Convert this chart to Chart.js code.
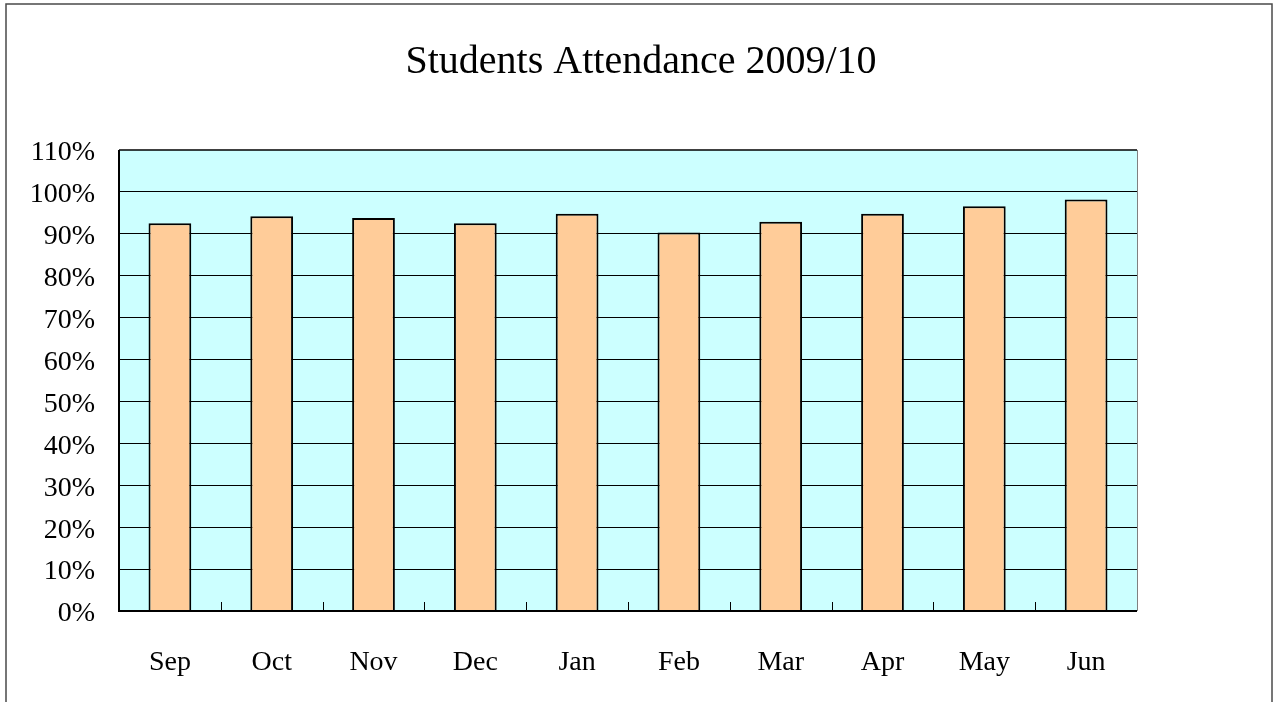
<!DOCTYPE html>
<html>
<head>
<meta charset="utf-8">
<script src="https://cdn.jsdelivr.net/npm/chart.js@4/dist/chart.umd.min.js"></script>
<style>
  html, body { margin: 0; padding: 0; background: #ffffff; }
  #wrap { position: relative; width: 1282px; height: 702px; }
</style>
</head>
<body>
<div id="wrap"><canvas id="c" width="1282" height="702"></canvas></div>
<script>
const titleText = 'Students Attendance 2009/10';
const months = ['Sep', 'Oct', 'Nov', 'Dec', 'Jan', 'Feb', 'Mar', 'Apr', 'May', 'Jun'];
const attendance = [92.5, 94.2, 93.8, 92.5, 94.8, 90.3, 92.9, 94.8, 96.6, 98.2];
const yTicks = [0, 10, 20, 30, 40, 50, 60, 70, 80, 90, 100, 110];

const FONT = "'Liberation Serif', 'DejaVu Serif', serif";

const frame = {
  id: 'frame',
  beforeDraw(chart) {
    const { ctx, chartArea: a } = chart;
    ctx.save();
    ctx.fillStyle = '#ffffff';
    ctx.fillRect(0, 0, chart.width, chart.height);
    ctx.strokeStyle = '#4a4a4a';
    ctx.lineWidth = 1.5;
    ctx.strokeRect(6, 4, 1266, 720);
    ctx.fillStyle = '#CCFFFF';
    ctx.fillRect(a.left, a.top, a.right - a.left, a.bottom - a.top);
    ctx.restore();
  },
  afterDraw(chart) {
    const { ctx, chartArea: a } = chart;
    const xs = chart.scales.x;
    ctx.save();
    ctx.strokeStyle = '#000';
    ctx.lineWidth = 1;
    for (let i = 1; i < months.length; i++) {
      const x = Math.round((xs.getPixelForTick(i - 1) + xs.getPixelForTick(i)) / 2) + 0.5;
      ctx.beginPath();
      ctx.moveTo(x, a.bottom - 9);
      ctx.lineTo(x, a.bottom);
      ctx.stroke();
    }
    ctx.strokeStyle = '#000';
    ctx.lineWidth = 1.5;
    ctx.beginPath();
    ctx.moveTo(a.left, a.top);
    ctx.lineTo(a.right, a.top);
    ctx.stroke();
    ctx.strokeStyle = '#808080';
    ctx.lineWidth = 1;
    ctx.beginPath();
    ctx.moveTo(a.right + 0.5, a.top);
    ctx.lineTo(a.right + 0.5, a.bottom);
    ctx.stroke();
    ctx.strokeStyle = '#000';
    ctx.lineWidth = 2;
    ctx.beginPath();
    ctx.moveTo(a.left, a.top);
    ctx.lineTo(a.left, a.bottom);
    ctx.lineTo(a.right, a.bottom);
    ctx.stroke();
    ctx.restore();
  }
};

new Chart(document.getElementById('c'), {
  type: 'bar',
  data: {
    labels: months,
    datasets: [{
      label: 'Attendance',
      data: attendance,
      backgroundColor: '#FFCC99',
      borderColor: '#000000',
      borderWidth: 2,
      borderSkipped: 'bottom',
      categoryPercentage: 1.0,
      barPercentage: 0.42
    }]
  },
  options: {
    responsive: false,
    animation: false,
    devicePixelRatio: 1,
    layout: { padding: 0 },
    plugins: {
      legend: { display: false },
      tooltip: { enabled: false },
      title: {
        display: true,
        text: titleText,
        color: '#000',
        font: { family: FONT, size: 40, weight: 'normal', lineHeight: 1.2 },
        padding: { top: 38, bottom: 64 }
      }
    },
    scales: {
      x: {
        grid: { display: false, drawTicks: false },
        border: { display: false },
        ticks: {
          color: '#000',
          padding: 35,
          font: { family: FONT, size: 28 },
          maxRotation: 0
        },
        afterFit(scale) { scale.height = 91; }
      },
      y: {
        min: 0,
        max: 110,
        grid: {
          color: (ctx) => (ctx.tick && (ctx.tick.value === 0 || ctx.tick.value === 110)) ? 'rgba(0,0,0,0)' : '#000000',
          lineWidth: 1,
          drawTicks: false
        },
        border: { display: false },
        afterBuildTicks(scale) { scale.ticks = yTicks.map(v => ({ value: v })); },
        ticks: {
          color: '#000',
          padding: 24,
          labelOffset: 3,
          font: { family: FONT, size: 28 },
          callback: (v) => v + '%'
        },
        afterFit(scale) { scale.width = 119; }
      },
      yRight: {
        position: 'right',
        display: true,
        min: 0,
        max: 110,
        grid: { display: false, drawTicks: false },
        border: { display: false },
        ticks: { display: false },
        afterFit(scale) { scale.width = 145; }
      }
    }
  },
  plugins: [frame]
});
</script>
</body>
</html>
